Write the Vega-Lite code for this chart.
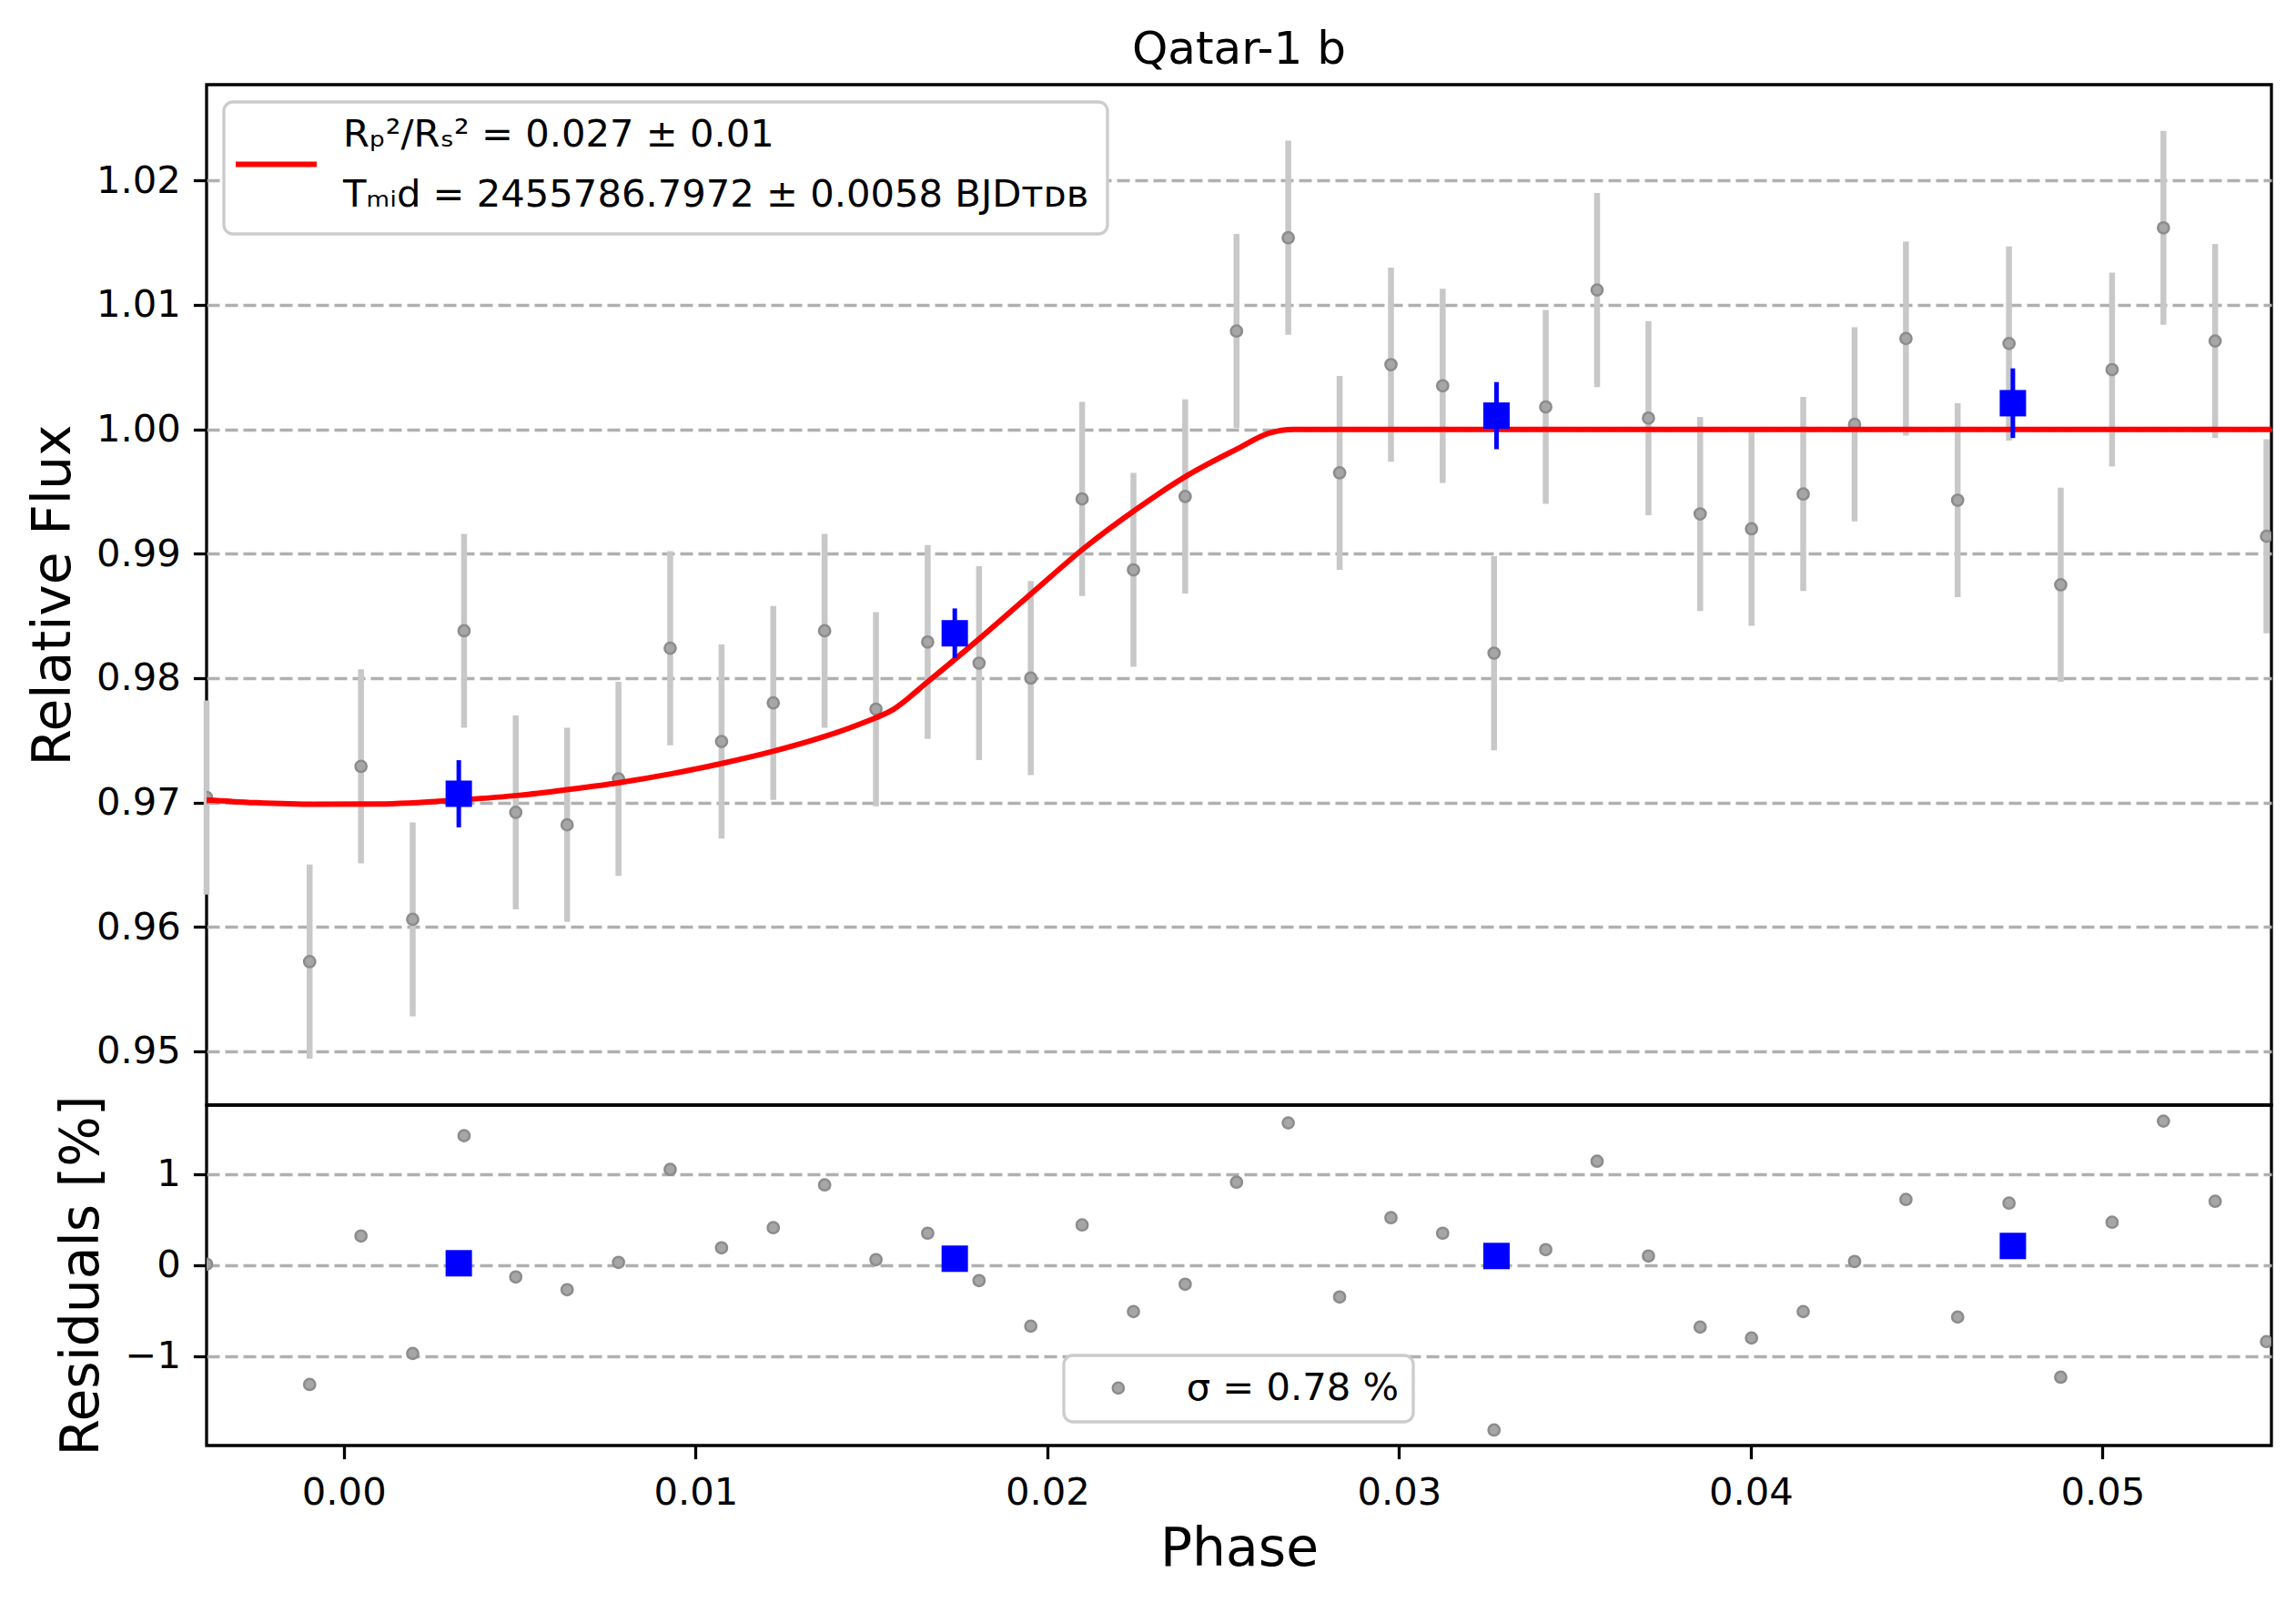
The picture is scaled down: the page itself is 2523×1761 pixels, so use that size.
{
  "$schema": "https://vega.github.io/schema/vega-lite/v6.json",
  "background": "white",
  "padding": {"left": 27, "top": 28, "right": 10, "bottom": 10},
  "config": {
    "font": "DejaVu Sans",
    "concat": {"spacing": 0},
    "view": {"stroke": "black", "strokeWidth": 3.3},
    "axis": {
      "domain": false,
      "labelFont": "DejaVu Sans",
      "labelFontSize": 41.7,
      "labelColor": "black",
      "labelPadding": 14,
      "tickColor": "black",
      "tickWidth": 3.3,
      "tickSize": 14.6,
      "titleFont": "DejaVu Sans",
      "titleFontSize": 58.3,
      "titleFontWeight": "normal",
      "titleColor": "black",
      "gridColor": "#b0b0b0",
      "gridDash": [14, 6],
      "gridWidth": 3.3
    },
    "legend": {
      "labelFont": "DejaVu Sans",
      "labelFontSize": 41.7,
      "labelColor": "black",
      "labelLimit": 3000,
      "fillColor": "white",
      "strokeColor": "#cccccc",
      "strokeWidth": 3.3,
      "cornerRadius": 10
    }
  },
  "datasets": {
    "points": [
      {"phase": -0.0039, "flux": 0.9704, "err": 0.0078, "resid": 0.01},
      {"phase": -0.00097, "flux": 0.9572, "err": 0.0078, "resid": -1.31},
      {"phase": 0.00049, "flux": 0.9729, "err": 0.0078, "resid": 0.32},
      {"phase": 0.00196, "flux": 0.9606, "err": 0.0078, "resid": -0.97},
      {"phase": 0.00342, "flux": 0.9838, "err": 0.0078, "resid": 1.42},
      {"phase": 0.00489, "flux": 0.9692, "err": 0.0078, "resid": -0.13},
      {"phase": 0.00635, "flux": 0.9682, "err": 0.0078, "resid": -0.27},
      {"phase": 0.00781, "flux": 0.9719, "err": 0.0078, "resid": 0.03},
      {"phase": 0.00928, "flux": 0.9824, "err": 0.0078, "resid": 1.05},
      {"phase": 0.01074, "flux": 0.9749, "err": 0.0078, "resid": 0.19},
      {"phase": 0.01221, "flux": 0.978, "err": 0.0078, "resid": 0.41},
      {"phase": 0.01367, "flux": 0.9838, "err": 0.0078, "resid": 0.88},
      {"phase": 0.01513, "flux": 0.9775, "err": 0.0078, "resid": 0.06},
      {"phase": 0.0166, "flux": 0.9829, "err": 0.0078, "resid": 0.35},
      {"phase": 0.01806, "flux": 0.9812, "err": 0.0078, "resid": -0.17},
      {"phase": 0.01953, "flux": 0.98, "err": 0.0078, "resid": -0.67},
      {"phase": 0.02099, "flux": 0.9944, "err": 0.0078, "resid": 0.44},
      {"phase": 0.02245, "flux": 0.9887, "err": 0.0078, "resid": -0.51},
      {"phase": 0.02392, "flux": 0.9946, "err": 0.0078, "resid": -0.21},
      {"phase": 0.02538, "flux": 1.0079, "err": 0.0078, "resid": 0.91},
      {"phase": 0.02685, "flux": 1.0154, "err": 0.0078, "resid": 1.56},
      {"phase": 0.02831, "flux": 0.9965, "err": 0.0078, "resid": -0.35},
      {"phase": 0.02977, "flux": 1.0052, "err": 0.0078, "resid": 0.52},
      {"phase": 0.03124, "flux": 1.0035, "err": 0.0078, "resid": 0.35},
      {"phase": 0.0327, "flux": 0.982, "err": 0.0078, "resid": -1.81},
      {"phase": 0.03417, "flux": 1.0018, "err": 0.0078, "resid": 0.17},
      {"phase": 0.03563, "flux": 1.0112, "err": 0.0078, "resid": 1.14},
      {"phase": 0.03709, "flux": 1.0009, "err": 0.0078, "resid": 0.1},
      {"phase": 0.03856, "flux": 0.9932, "err": 0.0078, "resid": -0.68},
      {"phase": 0.04002, "flux": 0.992, "err": 0.0078, "resid": -0.8},
      {"phase": 0.04149, "flux": 0.9948, "err": 0.0078, "resid": -0.51},
      {"phase": 0.04295, "flux": 1.0004, "err": 0.0078, "resid": 0.04},
      {"phase": 0.04441, "flux": 1.0073, "err": 0.0078, "resid": 0.72},
      {"phase": 0.04588, "flux": 0.9943, "err": 0.0078, "resid": -0.57},
      {"phase": 0.04734, "flux": 1.0069, "err": 0.0078, "resid": 0.68},
      {"phase": 0.04881, "flux": 0.9875, "err": 0.0078, "resid": -1.23},
      {"phase": 0.05027, "flux": 1.0048, "err": 0.0078, "resid": 0.47},
      {"phase": 0.05173, "flux": 1.0162, "err": 0.0078, "resid": 1.58},
      {"phase": 0.0532, "flux": 1.0071, "err": 0.0078, "resid": 0.7},
      {"phase": 0.05466, "flux": 0.9914, "err": 0.0078, "resid": -0.84}
    ],
    "binned": [
      {"phase": 0.00327, "flux": 0.9707, "err": 0.0027, "resid": 0.02},
      {"phase": 0.01737, "flux": 0.9836, "err": 0.002, "resid": 0.07},
      {"phase": 0.03277, "flux": 1.0011, "err": 0.0027, "resid": 0.1},
      {"phase": 0.04745, "flux": 1.0021, "err": 0.0028, "resid": 0.21}
    ],
    "model": [
      {"phase": -0.0039, "flux": 0.9702},
      {"phase": -0.0025, "flux": 0.96998},
      {"phase": -0.0008, "flux": 0.96985},
      {"phase": 0.001, "flux": 0.96988},
      {"phase": 0.0033, "flux": 0.97021},
      {"phase": 0.005, "flux": 0.97058},
      {"phase": 0.0064, "flux": 0.97105},
      {"phase": 0.0078, "flux": 0.97158},
      {"phase": 0.0093, "flux": 0.9723},
      {"phase": 0.0108, "flux": 0.97317},
      {"phase": 0.0122, "flux": 0.97411},
      {"phase": 0.0137, "flux": 0.97533},
      {"phase": 0.0148, "flux": 0.97645},
      {"phase": 0.0156, "flux": 0.97744},
      {"phase": 0.0166, "flux": 0.9797},
      {"phase": 0.0181, "flux": 0.98324},
      {"phase": 0.0196, "flux": 0.98693},
      {"phase": 0.0211, "flux": 0.99057},
      {"phase": 0.0225, "flux": 0.99352},
      {"phase": 0.024, "flux": 0.99632},
      {"phase": 0.0254, "flux": 0.99843},
      {"phase": 0.0263, "flux": 0.99969},
      {"phase": 0.027, "flux": 1.0},
      {"phase": 0.0548, "flux": 1.0}
    ]
  },
  "spacing": 0,
  "bounds": "flush",
  "resolve": {"legend": {"stroke": "independent", "fill": "independent"}},
  "vconcat": [
    {
      "width": 2269,
      "height": 1121,
      "title": {"text": "Qatar-1 b", "fontSize": 50, "fontWeight": "normal", "color": "black", "anchor": "middle", "offset": 13},
      "layer": [
        {
          "data": {"name": "points"},
          "mark": {"type": "errorbar", "color": "#c8c8c8", "thickness": 6.5, "ticks": false},
          "encoding": {
            "x": {"field": "phase", "type": "quantitative", "scale": {"domain": [-0.0039, 0.0548], "nice": false, "zero": false}, "axis": null},
            "y": {"field": "flux", "type": "quantitative", "title": "Relative Flux",
                  "scale": {"domain": [0.94567, 1.02771], "nice": false, "zero": false},
                  "axis": {"values": [0.95, 0.96, 0.97, 0.98, 0.99, 1.0, 1.01, 1.02], "format": ".2f", "grid": true, "titlePadding": 17}},
            "yError": {"field": "err"}
          }
        },
        {
          "data": {"name": "points"},
          "mark": {"type": "point", "filled": true, "clip": true, "fill": "#a6a6a6", "stroke": "#8c8c8c", "strokeWidth": 2.5, "size": 150, "opacity": 1},
          "encoding": {
            "x": {"field": "phase", "type": "quantitative", "axis": null},
            "y": {"field": "flux", "type": "quantitative", "title": "Relative Flux"}
          }
        },
        {
          "data": {"name": "model"},
          "mark": {"type": "line", "clip": true, "strokeWidth": 6, "interpolate": "monotone"},
          "encoding": {
            "x": {"field": "phase", "type": "quantitative", "axis": null},
            "y": {"field": "flux", "type": "quantitative", "title": "Relative Flux"},
            "stroke": {
              "datum": "Rₚ²/Rₛ² = 0.027 ± 0.01|Tₘᵢd = 2455786.7972 ± 0.0058 BJDᴛᴅʙ",
              "scale": {"range": ["#ff0000"]},
              "legend": {
                "orient": "none", "legendX": 19, "legendY": 19, "title": null,
                "labelExpr": "split(datum.label, '|')",
                "symbolType": "stroke", "symbolSize": 7921, "symbolStrokeWidth": 6,
                "symbolOffset": -11, "labelOffset": 26, "padding": 21,
                "encoding": {"labels": {"lineHeight": {"value": 66}, "dy": {"value": -33}}}
              }
            }
          }
        },
        {
          "data": {"name": "binned"},
          "mark": {"type": "errorbar", "color": "#0000ff", "thickness": 5, "ticks": false},
          "encoding": {
            "x": {"field": "phase", "type": "quantitative", "axis": null},
            "y": {"field": "flux", "type": "quantitative", "title": "Relative Flux"},
            "yError": {"field": "err"}
          }
        },
        {
          "data": {"name": "binned"},
          "mark": {"type": "point", "shape": "square", "filled": true, "color": "#0000ff", "size": 841, "opacity": 1},
          "encoding": {
            "x": {"field": "phase", "type": "quantitative", "axis": null},
            "y": {"field": "flux", "type": "quantitative", "title": "Relative Flux"}
          }
        }
      ]
    },
    {
      "width": 2269,
      "height": 374,
      "layer": [
        {
          "data": {"name": "points"},
          "mark": {"type": "point", "filled": true, "clip": true, "stroke": "#8c8c8c", "strokeWidth": 2.5, "size": 150, "opacity": 1},
          "encoding": {
            "x": {"field": "phase", "type": "quantitative", "title": "Phase",
                  "scale": {"domain": [-0.0039, 0.0548], "nice": false, "zero": false},
                  "axis": {"values": [0, 0.01, 0.02, 0.03, 0.04, 0.05], "format": ".2f", "grid": false, "labelPadding": 17, "titlePadding": 12}},
            "y": {"field": "resid", "type": "quantitative", "title": "Residuals [%]",
                  "scale": {"domain": [-1.98, 1.756], "nice": false, "zero": false},
                  "axis": {"values": [-1, 0, 1], "format": "d", "grid": true, "titlePadding": 17}},
            "fill": {
              "datum": "σ = 0.78 %",
              "scale": {"range": ["#a6a6a6"]},
              "legend": {
                "orient": "none", "legendX": 942, "legendY": 275, "title": null,
                "symbolType": "circle", "symbolSize": 150, "symbolStrokeColor": "#8c8c8c", "symbolStrokeWidth": 2.5,
                "symbolOffset": 24, "labelOffset": 54, "padding": 15
              }
            }
          }
        },
        {
          "data": {"name": "binned"},
          "mark": {"type": "point", "shape": "square", "filled": true, "color": "#0000ff", "size": 841, "opacity": 1},
          "encoding": {
            "x": {"field": "phase", "type": "quantitative", "title": "Phase"},
            "y": {"field": "resid", "type": "quantitative", "title": "Residuals [%]"}
          }
        }
      ]
    }
  ]
}
